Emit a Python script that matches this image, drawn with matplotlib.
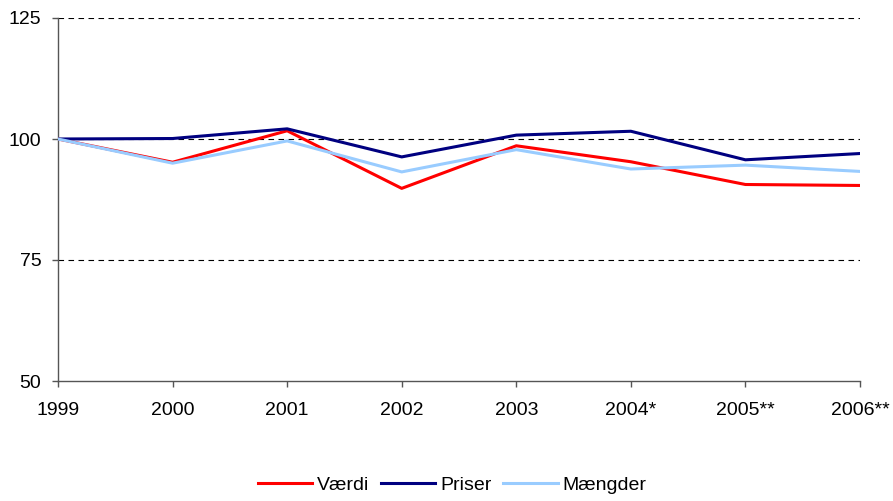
import matplotlib
matplotlib.use("Agg")
import matplotlib.pyplot as plt

categories = ["1999", "2000", "2001", "2002", "2003", "2004*", "2005**", "2006**"]
vaerdi = [100.0, 95.2, 101.7, 89.8, 98.6, 95.3, 90.6, 90.4]
priser = [100.0, 100.1, 102.1, 96.3, 100.8, 101.6, 95.7, 97.0]
maengder = [100.0, 95.0, 99.6, 93.2, 97.8, 93.8, 94.6, 93.3]
yticks = [50, 75, 100, 125]

plt.rcParams['font.family'] = ['Liberation Sans', 'DejaVu Sans']

fig = plt.figure(figsize=(8.93, 5.01), dpi=100)
ax = fig.add_axes([58/893, 1 - 381/501, (860-58)/893, (381-18)/501])

x = list(range(len(categories)))
ax.plot(x, vaerdi, color='#FF0000', lw=2.2, label='Værdi', zorder=3)
ax.plot(x, priser, color='#000080', lw=2.2, label='Priser', zorder=3)
ax.plot(x, maengder, color='#99CCFF', lw=2.2, label='Mængder', zorder=3)

ax.set_xlim(0, len(categories) - 1)
ax.set_ylim(50, 125)
ax.set_yticks(yticks)
ax.set_xticks(x)
ax.set_xticklabels(categories)

for v in yticks[1:]:
    ax.axhline(v, color='black', lw=0.8, ls=(0, (5, 4)), zorder=1)

for s in ['top', 'right']:
    ax.spines[s].set_visible(False)
for s in ['left', 'bottom']:
    ax.spines[s].set_color('#555555')
    ax.spines[s].set_linewidth(1.0)

ax.tick_params(axis='x', direction='out', length=4, width=1, color='#555555', pad=11, labelsize=14)
ax.tick_params(axis='y', direction='out', length=4, width=1, color='#555555', pad=8, labelsize=14)

leg = fig.legend(loc='center', bbox_to_anchor=(452/893, 1 - 485/501), ncol=3, frameon=False,
                 fontsize=14, handlelength=2.8, handletextpad=0.25, columnspacing=0.6,
                 borderpad=0, borderaxespad=0)

fig.savefig('out.png', dpi=100)
